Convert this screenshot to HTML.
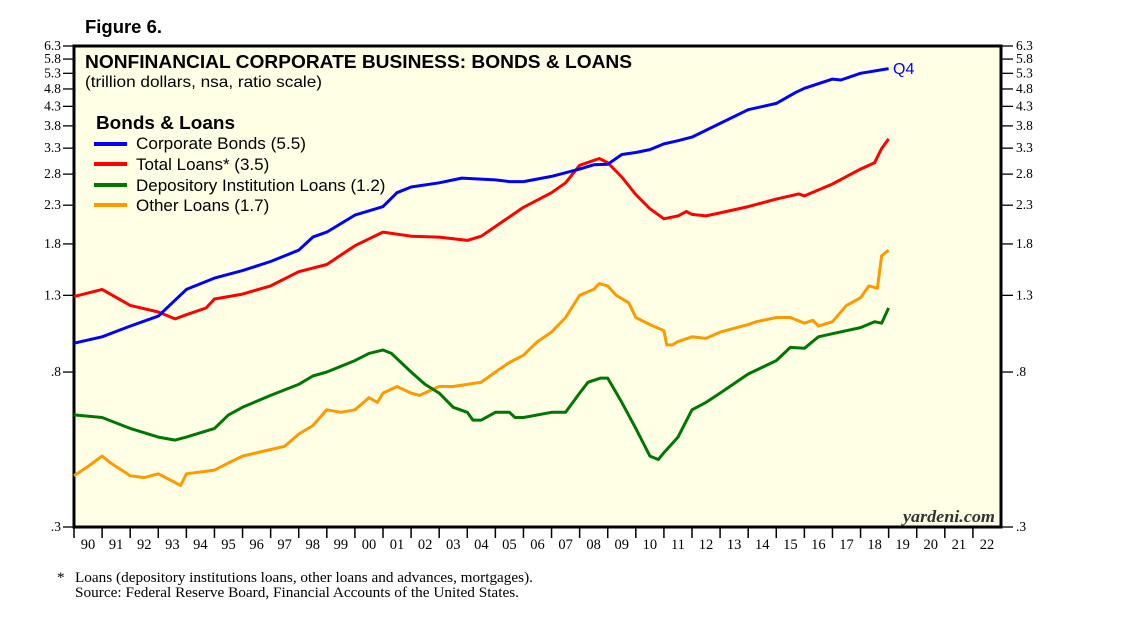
<!DOCTYPE html>
<html><head><meta charset="utf-8"><style>
body{margin:0;background:#fff;width:1138px;height:621px;overflow:hidden}
svg{display:block}
.s{font-family:"Liberation Sans",sans-serif}
.r{font-family:"Liberation Serif",serif}
</style></head><body>
<svg id="chart" width="1138" height="621" xmlns="http://www.w3.org/2000/svg">
<text class="s" x="85" y="33" font-size="18" font-weight="bold" textLength="77" lengthAdjust="spacingAndGlyphs">Figure 6.</text>
<rect x="74" y="46" width="927" height="481" fill="#FFFFE6" stroke="#000" stroke-width="3"/>
<g id="yaxes"></g>
<g id="xaxis"></g>
<g id="series"></g>
<text class="s" x="85" y="68" font-size="18" font-weight="bold" textLength="547" lengthAdjust="spacingAndGlyphs">NONFINANCIAL CORPORATE BUSINESS: BONDS &amp; LOANS</text>
<text class="s" x="85" y="87" font-size="16" textLength="237" lengthAdjust="spacingAndGlyphs">(trillion dollars, nsa, ratio scale)</text>
<g class="s" font-size="17">
<text x="96" y="129" font-size="18" font-weight="bold" textLength="139" lengthAdjust="spacingAndGlyphs">Bonds &amp; Loans</text>
<g><line x1="94" y1="144" x2="127" y2="144" stroke="#0000FF" stroke-width="4"/><text x="136" y="149" textLength="170" lengthAdjust="spacingAndGlyphs">Corporate Bonds (5.5)</text></g>
<g><line x1="94" y1="164" x2="127" y2="164" stroke="#FF0000" stroke-width="4"/><text x="136" y="170">Total Loans* (3.5)</text></g>
<g><line x1="94" y1="185" x2="127" y2="185" stroke="#007700" stroke-width="4"/><text x="136" y="191">Depository Institution Loans (1.2)</text></g>
<g><line x1="94" y1="205" x2="127" y2="205" stroke="#FF9900" stroke-width="4"/><text x="136" y="211">Other Loans (1.7)</text></g>
</g>
<text class="s" x="893" y="74" font-size="16" fill="#0000FF">Q4</text>
<text class="r" x="903" y="522" font-size="17" font-style="italic" font-weight="bold" fill="#333" textLength="92" lengthAdjust="spacingAndGlyphs">yardeni.com</text>
<text class="r" x="57" y="582" font-size="15">*</text>
<text class="r" x="75" y="582" font-size="15" textLength="458" lengthAdjust="spacingAndGlyphs">Loans (depository institutions loans, other loans and advances, mortgages).</text>
<text class="r" x="75" y="597" font-size="15" textLength="444" lengthAdjust="spacingAndGlyphs">Source: Federal Reserve Board, Financial Accounts of the United States.</text>
</svg>
<script>
const yTicks=[6.3,5.8,5.3,4.8,4.3,3.8,3.3,2.8,2.3,1.8,1.3,0.8,0.3];
const yTickLabels=["6.3","5.8","5.3","4.8","4.3","3.8","3.3","2.8","2.3","1.8","1.3",".8",".3"];
const xYears=[90,91,92,93,94,95,96,97,98,99,"00","01","02","03","04","05","06","07","08","09",10,11,12,13,14,15,16,17,18,19,20,21,22];
const bondsT=[1990,1991,1992,1993,1993.5,1994,1995,1996,1997,1998,1998.5,1999,2000,2001,2001.5,2002,2003,2003.8,2005,2005.5,2006,2007,2008,2008.5,2009,2009.5,2010,2010.5,2011,2011.5,2012,2013,2014,2015,2015.7,2016,2017,2017.3,2018,2019];
const bondsV=[0.96,1.00,1.07,1.14,1.24,1.35,1.45,1.52,1.61,1.73,1.88,1.94,2.16,2.28,2.49,2.58,2.65,2.73,2.70,2.67,2.67,2.76,2.89,2.97,2.98,3.17,3.21,3.27,3.39,3.46,3.54,3.86,4.21,4.38,4.70,4.82,5.11,5.08,5.30,5.46];
const loansT=[1990,1991,1992,1993,1993.6,1994,1994.7,1995,1996,1997,1998,1999,2000,2001,2002,2003,2004,2004.5,2005,2006,2007,2007.5,2008,2008.7,2009,2009.5,2010,2010.5,2011,2011.5,2011.8,2012,2012.5,2013,2014,2015,2015.8,2016,2017,2018,2018.5,2018.75,2019];
const loansV=[1.29,1.35,1.22,1.17,1.12,1.15,1.20,1.27,1.31,1.38,1.51,1.58,1.78,1.94,1.89,1.88,1.84,1.89,2.01,2.27,2.49,2.65,2.96,3.09,3.01,2.75,2.46,2.25,2.11,2.15,2.21,2.17,2.15,2.19,2.28,2.39,2.47,2.44,2.63,2.89,3.01,3.29,3.50];
const depT=[1990,1991,1992,1993,1993.6,1994,1995,1995.5,1996,1997,1998,1998.5,1999,2000,2000.5,2001,2001.3,2002,2002.5,2003,2003.5,2004,2004.2,2004.5,2005,2005.5,2005.7,2006,2007,2007.5,2008,2008.3,2008.75,2009,2009.5,2010,2010.5,2010.8,2011,2011.5,2012,2012.5,2013,2014,2015,2015.5,2016,2016.5,2017,2018,2018.5,2018.75,2019];
const depV=[0.61,0.60,0.56,0.53,0.52,0.53,0.56,0.61,0.64,0.69,0.74,0.78,0.80,0.86,0.90,0.92,0.90,0.80,0.74,0.70,0.64,0.62,0.59,0.59,0.62,0.62,0.60,0.60,0.62,0.62,0.70,0.75,0.77,0.77,0.66,0.56,0.47,0.46,0.48,0.53,0.63,0.66,0.70,0.79,0.86,0.935,0.93,1.00,1.02,1.06,1.10,1.09,1.20];
const otherT=[1990,1990.5,1991,1991.3,1992,1992.5,1993,1993.8,1994,1995,1995.5,1996,1997,1997.5,1998,1998.5,1999,1999.5,2000,2000.5,2000.8,2001,2001.5,2002,2002.3,2003,2003.5,2004,2004.5,2005,2005.5,2006,2006.5,2007,2007.5,2008,2008.5,2008.7,2009,2009.3,2009.75,2010,2010.5,2011,2011.1,2011.3,2011.5,2012,2012.5,2013,2014,2014.3,2015,2015.5,2016,2016.3,2016.5,2017,2017.5,2018,2018.3,2018.6,2018.75,2019];
const otherV=[0.415,0.44,0.47,0.45,0.415,0.41,0.42,0.39,0.42,0.43,0.45,0.47,0.49,0.50,0.54,0.57,0.63,0.62,0.63,0.68,0.66,0.70,0.73,0.70,0.69,0.73,0.73,0.74,0.75,0.80,0.85,0.89,0.97,1.03,1.13,1.30,1.35,1.40,1.38,1.30,1.24,1.13,1.08,1.04,0.95,0.95,0.97,1.00,0.99,1.03,1.08,1.10,1.13,1.13,1.09,1.11,1.07,1.10,1.22,1.28,1.38,1.36,1.67,1.73];
const NS="http://www.w3.org/2000/svg";
const X0=74,X1=1001,Y0=46,Y1=527,VMAX=6.3,VMIN=0.3,T0=1990,T1=2023;
function xS(t){return X0+(t-T0)*(X1-X0)/(T1-T0);}
function yS(v){return Y0+(Y1-Y0)*Math.log(VMAX/v)/Math.log(VMAX/VMIN);}
function mk(tag,attrs,parent){const e=document.createElementNS(NS,tag);for(const k in attrs)e.setAttribute(k,attrs[k]);parent.appendChild(e);return e;}
const ya=document.getElementById('yaxes');
yTicks.forEach((v,i)=>{const y=yS(v);
 const l1=mk('line',{x1:63,x2:73,y1:y,y2:y,stroke:'#000','stroke-width':1.3},ya);
 
 
 const l2=mk('line',{x1:1002,x2:1013,y1:y,y2:y,stroke:'#000','stroke-width':1.3},ya);
 
 
 const t1=mk('text',{x:61,y:y+4,'text-anchor':'end','font-size':13.5,'class':'r'},ya);t1.textContent=yTickLabels[i];
 
 
 const t2=mk('text',{x:1016,y:y+4,'font-size':13.5,'class':'r'},ya);t2.textContent=yTickLabels[i];
 
 
});
const xa=document.getElementById('xaxis');
xYears.forEach((lab,i)=>{const x=xS(T0+i);
 const tk=mk('line',{x1:x,x2:x,y1:527,y2:538,stroke:'#000','stroke-width':1.5},xa);
 
 
 const t=mk('text',{x:xS(T0+i+0.5),y:549,'text-anchor':'middle','font-size':14.5,'class':'r'},xa);t.textContent=lab;
 
 
});
const sg=document.getElementById('series');
function line(T,V,color,name){const d=T.map((t,i)=>(i?'L':'M')+xS(t).toFixed(1)+','+yS(V[i]).toFixed(1)).join('');
 const p=mk('path',{d:d,fill:'none',stroke:color,'stroke-width':3,'stroke-linejoin':'round'},sg);
 
 }
line(otherT,otherV,'#FF9900','other-loans-line');
line(depT,depV,'#007700','depository-loans-line');
line(loansT,loansV,'#FF0000','total-loans-line');
line(bondsT,bondsV,'#0000FF','corporate-bonds-line');
</script>
</body></html>
